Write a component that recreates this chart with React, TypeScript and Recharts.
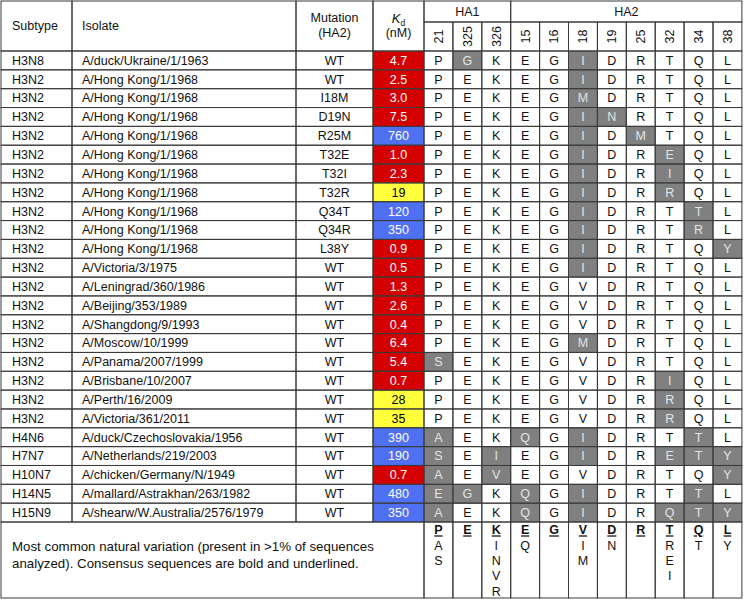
import React from "react";
import { ScatterChart, Scatter, XAxis, YAxis } from "recharts";

// ---- table content ----
const subtypes = [
  "H3N8", "H3N2", "H3N2", "H3N2", "H3N2", "H3N2", "H3N2", "H3N2", "H3N2", "H3N2",
  "H3N2", "H3N2", "H3N2", "H3N2", "H3N2", "H3N2", "H3N2", "H3N2", "H3N2", "H3N2",
  "H4N6", "H7N7", "H10N7", "H14N5", "H15N9",
];

const isolates = [
  "A/duck/Ukraine/1/1963",
  "A/Hong Kong/1/1968",
  "A/Hong Kong/1/1968",
  "A/Hong Kong/1/1968",
  "A/Hong Kong/1/1968",
  "A/Hong Kong/1/1968",
  "A/Hong Kong/1/1968",
  "A/Hong Kong/1/1968",
  "A/Hong Kong/1/1968",
  "A/Hong Kong/1/1968",
  "A/Hong Kong/1/1968",
  "A/Victoria/3/1975",
  "A/Leningrad/360/1986",
  "A/Beijing/353/1989",
  "A/Shangdong/9/1993",
  "A/Moscow/10/1999",
  "A/Panama/2007/1999",
  "A/Brisbane/10/2007",
  "A/Perth/16/2009",
  "A/Victoria/361/2011",
  "A/duck/Czechoslovakia/1956",
  "A/Netherlands/219/2003",
  "A/chicken/Germany/N/1949",
  "A/mallard/Astrakhan/263/1982",
  "A/shearw/W.Australia/2576/1979",
];

const mutations = [
  "WT", "WT", "I18M", "D19N", "R25M", "T32E", "T32I", "T32R", "Q34T", "Q34R",
  "L38Y", "WT", "WT", "WT", "WT", "WT", "WT", "WT", "WT", "WT",
  "WT", "WT", "WT", "WT", "WT",
];

const kdValues = [
  4.7, 2.5, 3.0, 7.5, 760, 1.0, 2.3, 19, 120, 350,
  0.9, 0.5, 1.3, 2.6, 0.4, 6.4, 5.4, 0.7, 28, 35,
  390, 190, 0.7, 480, 350,
];

const ha1Positions = ["21", "325", "326"];
const ha2Positions = ["15", "16", "18", "19", "25", "32", "34", "38"];

// residues in column order 21,325,326 | 15,16,18,19,25,32,34,38
const sequences = [
  "PGKEGIDRTQL",
  "PEKEGIDRTQL",
  "PEKEGMDRTQL",
  "PEKEGINRTQL",
  "PEKEGIDMTQL",
  "PEKEGIDREQL",
  "PEKEGIDRIQL",
  "PEKEGIDRRQL",
  "PEKEGIDRTTL",
  "PEKEGIDRTRL",
  "PEKEGIDRTQY",
  "PEKEGIDRTQL",
  "PEKEGVDRTQL",
  "PEKEGVDRTQL",
  "PEKEGVDRTQL",
  "PEKEGMDRTQL",
  "SEKEGVDRTQL",
  "PEKEGVDRIQL",
  "PEKEGVDRRQL",
  "PEKEGVDRRQL",
  "AEKQGIDRTTL",
  "SEIEGIDRETY",
  "AEVEGVDRTQY",
  "EGKQGIDRTTL",
  "AEKQGIDRQTY",
];

const consensus = "PEKEGVDRTQL";
// first letter of each entry is the consensus residue
const variants = ["PAS", "E", "KINVR", "EQ", "G", "VIM", "DN", "R", "TREI", "QT", "LY"];

const noteLines = [
  "Most common natural variation (present in >1% of sequences",
  "analyzed). Consensus sequences are bold and underlined.",
];

// ---- layout / style ----
const W = 744;
const H = 601;
const LEFT = 1;
const TOP = 1;
const TEXT_COLS = [71, 224, 77, 51];
const RES_W = 28.9;
const GROUP_H = 21;
const HEAD_H = 50;
const ROW_H = 18.84;
const FOOT_H = 76;

const FONT = "'Liberation Sans', Arial, Helvetica, sans-serif";
const FS = 12.5;
const NOTE_FS = 13.3;
const INK = "#111";
const LINE = "#3a3a3a";
const RED = "#d40000";
const BLUE = "#4f70f2";
const YELLOW = "#ffff3c";
const GRAY = "#808080";
const GRAY_TEXT = "#e4e4e4";

const kdFill = (v: number) => (v < 10 ? RED : v < 100 ? YELLOW : BLUE);
const kdLabel = (v: number) => (v < 10 ? v.toFixed(1) : String(v));

const edges: number[] = [LEFT];
[...TEXT_COLS, ...ha1Positions.map(() => RES_W), ...ha2Positions.map(() => RES_W)].forEach((w) =>
  edges.push(edges[edges.length - 1] + w)
);
const positions = [...ha1Positions, ...ha2Positions];
const bodyTop = TOP + HEAD_H;
const footTop = bodyTop + subtypes.length * ROW_H;
const footBottom = footTop + FOOT_H;

type CellRec = {
  x: number;
  y: number;
  w: number;
  h: number;
  kind: string;
  text?: string;
  lines?: string[];
  align?: "left" | "center";
  pad?: number;
  fill?: string;
  color?: string;
};

const box = (x0: number, x1: number, y0: number, y1: number, rest: Partial<CellRec>): CellRec => ({
  x: (x0 + x1) / 2,
  y: (y0 + y1) / 2,
  w: x1 - x0,
  h: y1 - y0,
  kind: "text",
  ...rest,
});

const cells: CellRec[] = [];
// header
cells.push(box(edges[0], edges[1], TOP, bodyTop, { kind: "text", text: "Subtype", align: "left", pad: 11 }));
cells.push(box(edges[1], edges[2], TOP, bodyTop, { kind: "text", text: "Isolate", align: "left", pad: 10 }));
cells.push(box(edges[2], edges[3], TOP, bodyTop, { kind: "lines", lines: ["Mutation", "(HA2)"] }));
cells.push(box(edges[3], edges[4], TOP, bodyTop, { kind: "kdhead" }));
cells.push(box(edges[4], edges[4 + ha1Positions.length], TOP, TOP + GROUP_H, { kind: "text", text: "HA1" }));
cells.push(box(edges[4 + ha1Positions.length], edges[edges.length - 1], TOP, TOP + GROUP_H, { kind: "text", text: "HA2" }));
positions.forEach((p, j) => {
  cells.push(box(edges[4 + j], edges[5 + j], TOP + GROUP_H, bodyTop, { kind: "pos", text: p }));
});
// body
subtypes.forEach((s, i) => {
  const y0 = bodyTop + i * ROW_H;
  const y1 = y0 + ROW_H;
  cells.push(box(edges[0], edges[1], y0, y1, { text: s, align: "left", pad: 11 }));
  cells.push(box(edges[1], edges[2], y0, y1, { text: isolates[i], align: "left", pad: 10 }));
  cells.push(box(edges[2], edges[3], y0, y1, { text: mutations[i] }));
  const kf = kdFill(kdValues[i]);
  cells.push(
    box(edges[3], edges[4], y0, y1, { text: kdLabel(kdValues[i]), fill: kf, color: kf === YELLOW ? "#000" : "#fff" })
  );
  sequences[i].split("").forEach((r, j) => {
    const diff = r !== consensus[j];
    cells.push(box(edges[4 + j], edges[5 + j], y0, y1, { text: r, fill: diff ? GRAY : undefined, color: diff ? GRAY_TEXT : INK }));
  });
});
// footer
cells.push(box(edges[0], edges[4], footTop, footBottom, { kind: "note", lines: noteLines }));
variants.forEach((v, j) => {
  cells.push(box(edges[4 + j], edges[5 + j], footTop, footBottom, { kind: "var", text: v }));
});

const FillShape = (props: any) => {
  const { cx, cy, payload: c } = props;
  if (!c.fill) return <g />;
  return <rect x={cx - c.w / 2} y={cy - c.h / 2} width={c.w} height={c.h} fill={c.fill} />;
};

const BorderShape = (props: any) => {
  const { cx, cy, payload: c } = props;
  return <rect x={cx - c.w / 2} y={cy - c.h / 2} width={c.w} height={c.h} fill="none" stroke={LINE} strokeWidth={1} />;
};

const TextShape = (props: any) => {
  const { cx, cy, payload: c } = props;
  const base = { fontFamily: FONT, fontSize: FS, fill: c.color || INK };
  const top = cy - c.h / 2;
  const left = cx - c.w / 2;
  if (c.kind === "text") {
    const isLeft = c.align === "left";
    return (
      <text {...base} x={isLeft ? left + (c.pad || 0) : cx} y={cy} dy="0.35em" textAnchor={isLeft ? "start" : "middle"}>
        {c.text}
      </text>
    );
  }
  if (c.kind === "lines") {
    return (
      <g>
        <text {...base} x={cx} y={cy - 8} dy="0.35em" textAnchor="middle">{c.lines[0]}</text>
        <text {...base} x={cx} y={cy + 7} dy="0.35em" textAnchor="middle">{c.lines[1]}</text>
      </g>
    );
  }
  if (c.kind === "kdhead") {
    return (
      <g>
        <text {...base} x={cx} y={cy - 7.5} dy="0.35em" textAnchor="middle">
          <tspan fontStyle="italic" fontSize={13}>K</tspan>
          <tspan fontSize={8.5} dy={3}>d</tspan>
        </text>
        <text {...base} x={cx} y={cy + 7} dy="0.35em" textAnchor="middle">(nM)</text>
      </g>
    );
  }
  if (c.kind === "pos") {
    return (
      <text {...base} x={cx} y={cy} dy="0.35em" textAnchor="middle" transform={`rotate(-90 ${cx} ${cy})`}>
        {c.text}
      </text>
    );
  }
  if (c.kind === "note") {
    return (
      <g>
        {c.lines.map((l: string, k: number) => (
          <text key={k} {...base} fontSize={NOTE_FS} x={left + 11} y={top + 24.7 + k * 16.3} dy="0.35em">{l}</text>
        ))}
      </g>
    );
  }
  if (c.kind === "var") {
    return (
      <g>
        {c.text.split("").map((ch: string, k: number) => (
          <text
            key={k}
            {...base}
            x={cx}
            y={top + 8 + k * 15.3}
            dy="0.35em"
            textAnchor="middle"
            fontWeight={k === 0 ? "bold" : "normal"}
            style={k === 0 ? { textDecoration: "underline" } : undefined}
          >
            {ch}
          </text>
        ))}
      </g>
    );
  }
  return <g />;
};

export default function App() {
  return (
    <div style={{ position: "absolute", left: 0, top: 0, background: "#fff" }}>
      <ScatterChart width={W} height={H} margin={{ top: 0, right: 0, bottom: 0, left: 0 }}>
        <XAxis type="number" dataKey="x" domain={[0, W]} allowDataOverflow hide />
        <YAxis type="number" dataKey="y" domain={[0, H]} allowDataOverflow reversed hide />
        <Scatter data={cells} shape={FillShape} isAnimationActive={false} />
        <Scatter data={cells} shape={BorderShape} isAnimationActive={false} />
        <Scatter data={cells} shape={TextShape} isAnimationActive={false} />
      </ScatterChart>
    </div>
  );
}
